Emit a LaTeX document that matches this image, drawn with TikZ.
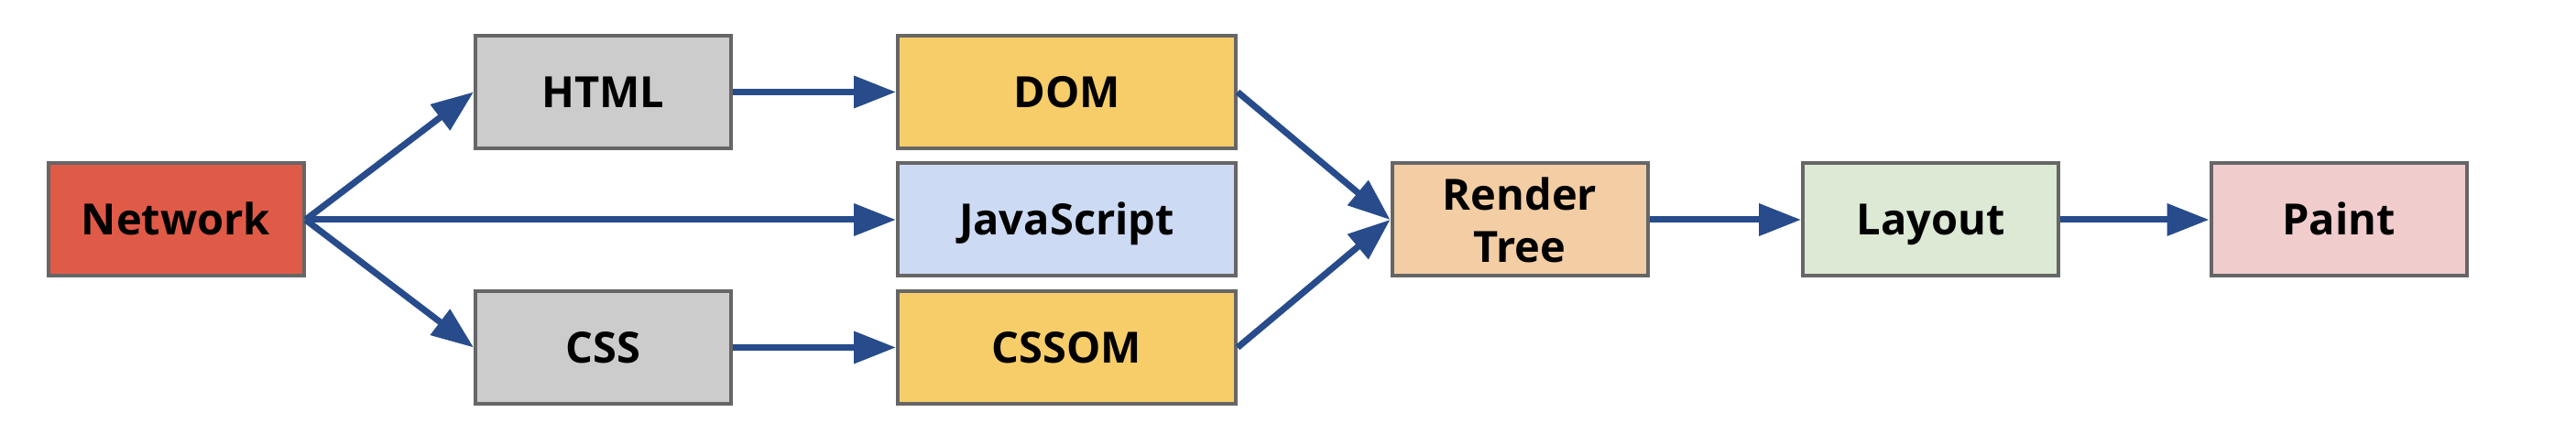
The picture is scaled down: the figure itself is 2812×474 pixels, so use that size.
\documentclass[tikz,border=0pt]{standalone}
\usepackage{fontspec}
\setmainfont{Open Sans}
\usetikzlibrary{arrows.meta}

\definecolor{linegray}{HTML}{666666}
\definecolor{flowblue}{HTML}{274B8B}
\definecolor{netred}{HTML}{E05A48}
\definecolor{srcgray}{HTML}{CCCCCC}
\definecolor{treeyellow}{HTML}{F6CD68}
\definecolor{jsblue}{HTML}{CDDAF3}
\definecolor{renderorange}{HTML}{F3CDA4}
\definecolor{layoutgreen}{HTML}{DCE9D5}
\definecolor{paintpink}{HTML}{F0CCCC}

\tikzset{
  box/.style={draw=linegray, line width=2pt, minimum width=139.5pt, minimum height=61.5pt,
    inner sep=0pt, align=center, text height=22pt, text depth=5.2pt,
    font=\fontsize{23.5}{28.5}\selectfont\bfseries},
  widebox/.style={box, minimum width=184.5pt},
  flow/.style={draw=flowblue, line width=3.5pt, -{Triangle[length=23pt,width=17pt]}}
}

\begin{document}
\begin{tikzpicture}[x=0.5pt,y=-0.5pt]
\useasboundingbox (0,0) rectangle (2812,474);

%Boxes
\node [box, fill=netred] (network) at (192,240) {Network};
\node [box, fill=srcgray] (html) at (658.5,100.5) {HTML};
\node [box, fill=srcgray] (css) at (658.5,379.5) {CSS};
\node [widebox, fill=treeyellow] (dom) at (1164.5,100.5) {DOM};
\node [widebox, fill=jsblue] (js) at (1164.5,240) {JavaScript};
\node [widebox, fill=treeyellow] (cssom) at (1164.5,379.5) {CSSOM};
\node [box, fill=renderorange, text height=, text depth=] (render) at (1659,240) {Render\\Tree};
\node [box, fill=layoutgreen] (layout) at (2107.5,240) {Layout};
\node [box, fill=paintpink] (paint) at (2553,240) {Paint};

%Arrows
\draw [flow] (network.east) -- (html.west);
\draw [flow] (network.east) -- (js.west);
\draw [flow] (network.east) -- (css.west);
\draw [flow] (html) -- (dom);
\draw [flow] (css) -- (cssom);
\draw [flow] (dom.east) -- (render.west);
\draw [flow] (cssom.east) -- (render.west);
\draw [flow] (render) -- (layout);
\draw [flow] (layout) -- (paint);

\end{tikzpicture}
\end{document}
